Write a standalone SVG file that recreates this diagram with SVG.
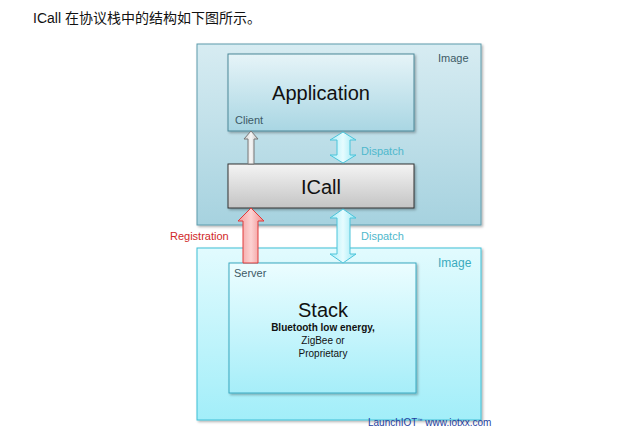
<svg xmlns="http://www.w3.org/2000/svg" width="626" height="434" viewBox="0 0 626 434">
<defs>
<linearGradient id="gTopImg" x1="0" y1="0" x2="0" y2="1"><stop offset="0" stop-color="#d7ecf2"/><stop offset="1" stop-color="#a6d2df"/></linearGradient>
<linearGradient id="gApp" x1="0" y1="0" x2="0" y2="1"><stop offset="0" stop-color="#e6f4f8"/><stop offset="1" stop-color="#a9d6e3"/></linearGradient>
<linearGradient id="gICall" x1="0" y1="0" x2="0" y2="1"><stop offset="0" stop-color="#f4f4f4"/><stop offset="1" stop-color="#c4c4c4"/></linearGradient>
<linearGradient id="gBotImg" x1="0" y1="0" x2="0" y2="1"><stop offset="0" stop-color="#e2fbfe"/><stop offset="1" stop-color="#a2eef9"/></linearGradient>
<linearGradient id="gStack" x1="0" y1="0" x2="0" y2="1"><stop offset="0" stop-color="#ecfdff"/><stop offset="1" stop-color="#a6eef9"/></linearGradient>
<linearGradient id="gReg" x1="0" y1="0" x2="1" y2="0"><stop offset="0" stop-color="#f39a9a"/><stop offset="0.5" stop-color="#fcd2d2"/><stop offset="1" stop-color="#f08a8a"/></linearGradient>
<linearGradient id="gDisp" x1="0" y1="0" x2="1" y2="0"><stop offset="0" stop-color="#a8eef8"/><stop offset="0.5" stop-color="#e6fcff"/><stop offset="1" stop-color="#98e8f4"/></linearGradient>
<linearGradient id="gGray" x1="0" y1="0" x2="1" y2="0"><stop offset="0" stop-color="#cfcfcf"/><stop offset="0.5" stop-color="#f6f6f6"/><stop offset="1" stop-color="#c4c4c4"/></linearGradient>
<filter id="sh" x="-5%" y="-5%" width="112%" height="115%"><feDropShadow dx="1.5" dy="1.5" stdDeviation="1.2" flood-color="#000" flood-opacity="0.3"/></filter>
</defs>
<style>
text{font-family:"Liberation Sans","Noto Sans CJK SC",Arial,sans-serif}
.big{font-size:20px;fill:#111;text-anchor:middle}
.lbl{font-size:11px;fill:#3d5a66}
.disp{font-size:11px;fill:#4fb8cc}
.sub{font-size:10px;fill:#111;text-anchor:middle}
</style>
<rect width="626" height="434" fill="#ffffff"/>
<text x="33" y="23" font-size="14" fill="#111">ICall 在协议栈中的结构如下图所示。</text>

<g id="top-image">
<rect x="197" y="44" width="284" height="181" fill="url(#gTopImg)" stroke="#5c9cac" stroke-width="1" filter="url(#sh)"/>
<text class="lbl" x="438" y="62" font-size="12">Image</text>
</g>
<g id="application">
<rect x="228" y="54" width="186" height="77" fill="url(#gApp)" stroke="#4a8797" stroke-width="1" filter="url(#sh)"/>
<text class="big" x="321" y="100">Application</text>
<text class="lbl" x="235" y="124">Client</text>
</g>
<g id="icall">
<rect x="228" y="164" width="186" height="44" fill="url(#gICall)" stroke="#333" stroke-width="1" filter="url(#sh)"/>
<text class="big" x="321" y="194">ICall</text>
</g>
<g id="bottom-image">
<rect x="197" y="248" width="284" height="172" fill="url(#gBotImg)" stroke="#3ebfd6" stroke-width="1" filter="url(#sh)"/>
<text x="438" y="267" font-size="12" fill="#3aaabd">Image</text>
</g>
<g id="stack">
<rect x="229" y="263" width="187" height="130" fill="url(#gStack)" stroke="#3aa8c0" stroke-width="1" filter="url(#sh)"/>
<text class="lbl" x="234" y="277" font-size="11">Server</text>
<text class="big" x="323" y="317" font-size="18">Stack</text>
<text class="sub" x="323" y="331" font-weight="bold">Bluetooth low energy,</text>
<text class="sub" x="323" y="344">ZigBee or</text>
<text class="sub" x="323" y="357">Proprietary</text>
</g>

<g id="connectors">
<polygon points="251,131 258,139 254,139 254,164 248,164 248,139 244,139" fill="url(#gGray)" stroke="#777" stroke-width="1"/>
<polygon points="343,132 356,140 350,140 350,155 356,155 343,163 330,155 337,155 337,140 330,140" fill="url(#gDisp)" stroke="#4cc4da" stroke-width="1"/>
<polygon points="251,208 264,221 258,221 258,263 243,263 243,221 238,221" fill="url(#gReg)" stroke="#e03a3a" stroke-width="1"/>
<polygon points="343,209 356,218 350,218 350,254 356,254 343,263 330,254 337,254 337,218 330,218" fill="url(#gDisp)" stroke="#4cc4da" stroke-width="1"/>
<text x="170" y="240" font-size="11" fill="#d02828">Registration</text>
<text class="disp" x="361" y="155">Dispatch</text>
<text class="disp" x="361" y="240">Dispatch</text>
</g>

<text x="368" y="426" font-size="10" fill="#1f3f9f">LaunchIOT<tspan font-size="5" dy="-4">™</tspan><tspan dy="4"> www.iotxx.com</tspan></text>
</svg>
